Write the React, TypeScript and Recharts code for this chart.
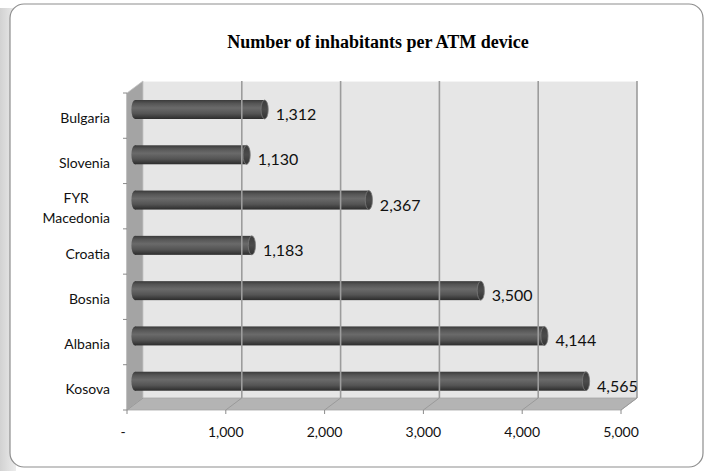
import React from 'react';
import {
  BarChart,
  Bar,
  XAxis,
  YAxis,
  ReferenceArea,
  ReferenceLine,
  LabelList,
} from 'recharts';

// Inhabitants per ATM, by country
const countries = ['Bulgaria', 'Slovenia', 'FYR Macedonia', 'Croatia', 'Bosnia', 'Albania', 'Kosova'];
const inhabitantsPerAtm = [1312, 1130, 2367, 1183, 3500, 4144, 4565];
const xTicks = [0, 1000, 2000, 3000, 4000, 5000];
const xTickLabels = ['-', '1,000', '2,000', '3,000', '4,000', '5,000'];
const gridValues = [1000, 2000, 3000, 4000, 5000];

const data = countries.map((name, i) => ({ name, value: inhabitantsPerAtm[i] }));

const W = 710;
const H = 471;
// 3-D depth of the box (front edge -> back wall)
const DX = 16;
const DY = 12;
const HX = DX / 2;
const HY = DY / 2;

const FONT = 'Lato, "Open Sans", sans-serif';

let measureCtx: CanvasRenderingContext2D | null = null;
const measure = (text: string, font: string) => {
  if (!measureCtx) {
    const c = document.createElement('canvas');
    measureCtx = c.getContext('2d');
  }
  if (!measureCtx) return text.length * 7;
  measureCtx.font = font;
  return measureCtx.measureText(text).width;
};

// Back wall, left wall, floor and category tick marks of the 3-D box
const Box = (p: any) => {
  const { x, y, width, height } = p;
  const n = countries.length;
  const fl = x - HX; // front-left
  const bl = x + HX; // back-left
  const ft = y + HY; // front-top
  const bt = y - HY; // back-top
  const fb = y + height + HY; // front-bottom
  const bb = y + height - HY; // back-bottom
  const ticks = [];
  for (let i = 0; i <= n; i++) {
    const ty = ft + (height * i) / n;
    ticks.push(<line key={i} x1={fl - 4} y1={ty} x2={fl} y2={ty} stroke="#8a8a8a" strokeWidth={1} />);
  }
  return (
    <g>
      <rect x={bl} y={bt} width={width} height={height} fill="#e6e6e6" />
      <line x1={bl} y1={bt + 0.5} x2={bl + width} y2={bt + 0.5} stroke="#f4f4f4" strokeWidth={1} />
      <polygon
        points={`${fl},${ft} ${bl},${bt} ${bl},${bb} ${fl},${fb}`}
        fill="#a4a4a4"
        stroke="#c4c4c4"
        strokeWidth={0.8}
      />
      <polygon
        points={`${fl},${fb} ${fl + width},${fb} ${bl + width},${bb} ${bl},${bb}`}
        fill="#b4b4b4"
        stroke="#a6a6a6"
        strokeWidth={0.8}
      />
      <line x1={fl} y1={ft} x2={fl} y2={fb} stroke="#9a9a9a" strokeWidth={1} />
      {ticks}
    </g>
  );
};

// Gridline on the back wall
const WallLine = (p: any) => {
  const { x1, y1, x2, y2 } = p;
  return (
    <line
      x1={x1 + HX}
      y1={y1 - HY}
      x2={x2 + HX}
      y2={y2 - HY}
      stroke="#9c9c9c"
      strokeWidth={1.6}
    />
  );
};

const Cylinder = (p: any) => {
  const { x, y, width, height } = p;
  if (width == null || height == null) return null;
  const cy = y + height / 2;
  const ry = height / 2;
  const rx = 3.6;
  return (
    <g>
      <ellipse cx={x} cy={cy} rx={rx} ry={ry} fill="url(#cylBody)" />
      <rect x={x} y={y} width={width} height={height} fill="url(#cylBody)" />
      <ellipse cx={x + width} cy={cy} rx={rx} ry={ry} fill="url(#cylCap)" stroke="#7a7a7a" strokeWidth={0.8} />
    </g>
  );
};

const ValueLabel = (p: any) => {
  const { x, y, width, height, value } = p;
  return (
    <text
      x={x + width + 11}
      y={y + height / 2 + 4}
      dominantBaseline="central"
      textAnchor="start"
      fontFamily={FONT}
      fontSize={16}
      fill="#111"
    >
      {Number(value).toLocaleString('en-US')}
    </text>
  );
};

const XTick = (p: any) => {
  const { x, y, payload } = p;
  const fx = x - HX;
  const fy = y + HY;
  const idx = xTicks.indexOf(payload.value);
  const label = idx >= 0 ? xTickLabels[idx] : String(payload.value);
  return (
    <g>
      <line x1={fx} y1={fy} x2={fx} y2={fy + 4} stroke="#8a8a8a" strokeWidth={1} />
      <line x1={fx} y1={fy} x2={fx + DX} y2={fy - DY} stroke="#9a9a9a" strokeWidth={1} />
      <text
        x={payload.value === 0 ? fx - 4 : fx}
        y={fy + 27}
        textAnchor="middle"
        fontFamily={FONT}
        fontSize={14}
        fill="#111"
      >
        {label}
      </text>
    </g>
  );
};

const YTick = (p: any) => {
  const { x, y, payload } = p;
  const right = x - HX - 17;
  const base = y + HY + 7;
  const lines = String(payload.value).split(' ');
  const font = `14px ${FONT}`;
  if (lines.length === 1) {
    return (
      <text x={right} y={base} textAnchor="end" fontFamily={FONT} fontSize={14} fill="#111">
        {lines[0]}
      </text>
    );
  }
  const widths = lines.map((l) => measure(l, font));
  const maxW = Math.max(...widths);
  const cx = right - maxW / 2;
  const lh = 20;
  const first = base - (lh * (lines.length - 1)) / 2;
  return (
    <g>
      {lines.map((l, i) => (
        <text key={i} x={cx} y={first + i * lh} textAnchor="middle" fontFamily={FONT} fontSize={14} fill="#111">
          {l}
        </text>
      ))}
    </g>
  );
};

export default function App() {
  return (
    <div style={{ position: 'absolute', left: 0, top: 0, width: W, height: H, background: '#fff' }}>
      <svg width={W} height={H} style={{ position: 'absolute', left: 0, top: 0 }}>
        <defs>
          <linearGradient id="frameShadow" x1="0" y1="0" x2="1" y2="0">
            <stop offset="0" stopColor="#d2d2d2" />
            <stop offset="1" stopColor="#ececec" />
          </linearGradient>
        </defs>
        <rect x={0} y={8} width={16} height={H - 8} fill="url(#frameShadow)" />
        <rect x={10} y={4} width={693} height={463} rx={14} ry={14} fill="#fff" stroke="#8e8e8e" strokeWidth={1.2} />
        <text
          x={378}
          y={48}
          textAnchor="middle"
          fontFamily='"Liberation Serif", "Times New Roman", serif'
          fontWeight="bold"
          fontSize={18}
          fill="#000"
        >
          Number of inhabitants per ATM device
        </text>
      </svg>
      <div style={{ position: 'absolute', left: 0, top: 0 }}>
        <BarChart
          width={W}
          height={H}
          data={data}
          layout="vertical"
          margin={{ top: 87, right: 81, bottom: 37, left: 15 }}
          barSize={19}
          style={{ overflow: 'visible' }}
        >
          <defs>
            <linearGradient id="cylBody" x1="0" y1="0" x2="0" y2="1">
              <stop offset="0" stopColor="#3a3a3a" />
              <stop offset="0.18" stopColor="#555555" />
              <stop offset="0.42" stopColor="#6a6a6a" />
              <stop offset="0.72" stopColor="#545454" />
              <stop offset="1" stopColor="#2c2c2c" />
            </linearGradient>
            <linearGradient id="cylCap" x1="0" y1="0" x2="0" y2="1">
              <stop offset="0" stopColor="#3c3c3c" />
              <stop offset="0.5" stopColor="#4c4c4c" />
              <stop offset="1" stopColor="#333333" />
            </linearGradient>
          </defs>
          <XAxis
            type="number"
            domain={[0, 5000]}
            ticks={xTicks}
            axisLine={false}
            tickLine={false}
            tickSize={0}
            tickMargin={0}
            height={30}
            interval={0}
            tick={<XTick />}
          />
          <YAxis
            type="category"
            dataKey="name"
            width={120}
            axisLine={false}
            tickLine={false}
            tickSize={0}
            tickMargin={0}
            interval={0}
            tick={<YTick />}
          />
          <ReferenceArea x1={0} x2={5000} ifOverflow="visible" shape={<Box />} fill="none" />
          {gridValues.map((v) => (
            <ReferenceLine key={v} x={v} ifOverflow="visible" shape={<WallLine />} />
          ))}
          <Bar dataKey="value" isAnimationActive={false} shape={<Cylinder />}>
            <LabelList dataKey="value" content={<ValueLabel />} />
          </Bar>
        </BarChart>
      </div>
    </div>
  );
}
